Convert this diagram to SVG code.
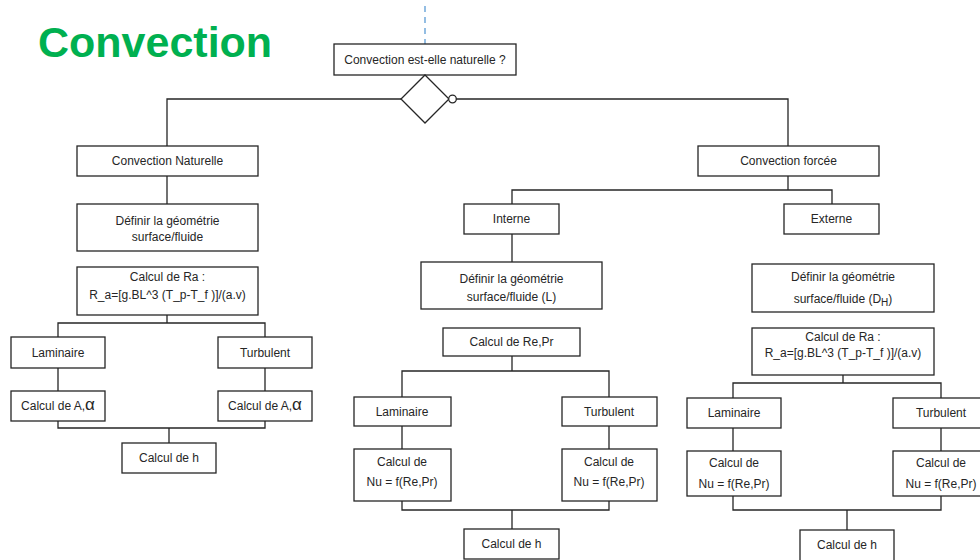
<svg xmlns="http://www.w3.org/2000/svg" width="980" height="560" viewBox="0 0 980 560">
<style>
.b{fill:#fff;stroke:#262626;stroke-width:1.3}
.t{font-family:"Liberation Sans",Arial,sans-serif;font-size:12px;fill:#262626;text-anchor:middle}
.c{fill:none;stroke:#262626;stroke-width:1.3}
</style>
<rect width="980" height="560" fill="#fff"/>
<text x="38" y="57" font-family="Liberation Sans,Arial,sans-serif" font-weight="bold" font-size="43" fill="#00B050">Convection</text>
<line x1="425" y1="6" x2="425" y2="44" stroke="#5B9BD5" stroke-width="1.3" stroke-dasharray="6 5"/>
<g id="connectors">
<path class="c" d="M401,99 H167 V146"/>
<path class="c" d="M456,99 H788 V146"/>
<path class="c" d="M167,176 V204"/>
<path class="c" d="M167,315 V323"/>
<path class="c" d="M58,337 V323 H265 V337"/>
<path class="c" d="M58,368 V391 M265,368 V391"/>
<path class="c" d="M58,421 V428 H265 V421 M169,428 V443"/>
<path class="c" d="M788,176 V190"/>
<path class="c" d="M512,204 V190 H832 V204"/>
<path class="c" d="M512,234 V262"/>
<path class="c" d="M512,356 V371"/>
<path class="c" d="M402,397 V371 H609 V397"/>
<path class="c" d="M402,426 V449 M609,426 V449"/>
<path class="c" d="M402,501 V510 H609 V501 M512,510 V529"/>
<path class="c" d="M843,375 V383"/>
<path class="c" d="M733,398 V383 H941 V398"/>
<path class="c" d="M733,428 V451 M941,428 V451"/>
<path class="c" d="M733,496 V510 H941 V496 M847,510 V530"/>
</g>
<g id="question"><rect class="b" x="334" y="44" width="182" height="31"/><text class="t" x="425" y="64">Convection est-elle naturelle ?</text></g>
<g id="decision"><polygon class="b" points="425,75 449,99 425,123 401,99"/><circle class="b" cx="452.5" cy="99" r="3.8"/></g>
<g id="nat"><rect class="b" x="77" y="146" width="181" height="30"/><text class="t" x="167.5" y="165">Convection Naturelle</text></g>
<g id="nat_geo"><rect class="b" x="77" y="204" width="181" height="47"/><text class="t" x="167.5" y="225">Définir la géométrie</text><text class="t" x="167.5" y="241">surface/fluide</text></g>
<g id="nat_ra"><rect class="b" x="77" y="267" width="181" height="48"/><text class="t" x="167.5" y="281">Calcul de Ra :</text><text class="t" x="167.5" y="299">R_a=[g.BL^3 (T_p-T_f )]/(a.v)</text></g>
<g id="nat_lam"><rect class="b" x="11" y="337" width="94" height="31"/><text class="t" x="58" y="356.5">Laminaire</text></g>
<g id="nat_turb"><rect class="b" x="218" y="337" width="94" height="31"/><text class="t" x="265" y="356.5">Turbulent</text></g>
<g id="nat_al"><rect class="b" x="11" y="391" width="94" height="30"/><text class="t" x="58" y="410">Calcul de A,<tspan font-size="17">α</tspan></text></g>
<g id="nat_at"><rect class="b" x="218" y="391" width="94" height="30"/><text class="t" x="265" y="410">Calcul de A,<tspan font-size="17">α</tspan></text></g>
<g id="nat_h"><rect class="b" x="122" y="443" width="94" height="30"/><text class="t" x="169" y="462">Calcul de h</text></g>
<g id="forcee"><rect class="b" x="698" y="146" width="181" height="30"/><text class="t" x="788.5" y="165">Convection forcée</text></g>
<g id="interne"><rect class="b" x="464" y="204" width="95" height="30"/><text class="t" x="511.5" y="223">Interne</text></g>
<g id="externe"><rect class="b" x="784" y="204" width="95" height="30"/><text class="t" x="831.5" y="223">Externe</text></g>
<g id="int_geo"><rect class="b" x="421" y="262" width="181" height="47"/><text class="t" x="511.5" y="283">Définir la géométrie</text><text class="t" x="511.5" y="301">surface/fluide (L)</text></g>
<g id="int_repr"><rect class="b" x="443" y="328" width="137" height="28"/><text class="t" x="511.5" y="346">Calcul de Re,Pr</text></g>
<g id="int_lam"><rect class="b" x="354" y="397" width="97" height="29"/><text class="t" x="402" y="415.5">Laminaire</text></g>
<g id="int_turb"><rect class="b" x="562" y="397" width="95" height="29"/><text class="t" x="609" y="415.5">Turbulent</text></g>
<g id="int_nul"><rect class="b" x="354" y="449" width="97" height="52"/><text class="t" x="402" y="466">Calcul de</text><text class="t" x="402" y="486">Nu = f(Re,Pr)</text></g>
<g id="int_nut"><rect class="b" x="562" y="449" width="95" height="52"/><text class="t" x="609" y="466">Calcul de</text><text class="t" x="609" y="486">Nu = f(Re,Pr)</text></g>
<g id="int_h"><rect class="b" x="464" y="529" width="95" height="30"/><text class="t" x="511.5" y="548">Calcul de h</text></g>
<g id="ext_geo"><rect class="b" x="752" y="264" width="182" height="48"/><text class="t" x="843" y="281">Définir la géométrie</text><text class="t" x="843" y="303">surface/fluide (D<tspan dy="3" font-size="10">H</tspan><tspan dy="-3">)</tspan></text></g>
<g id="ext_ra"><rect class="b" x="752" y="328" width="182" height="47"/><text class="t" x="843" y="341">Calcul de Ra :</text><text class="t" x="843" y="357">R_a=[g.BL^3 (T_p-T_f )]/(a.v)</text></g>
<g id="ext_lam"><rect class="b" x="687" y="398" width="94" height="30"/><text class="t" x="734" y="417">Laminaire</text></g>
<g id="ext_turb"><rect class="b" x="893" y="398" width="96" height="30"/><text class="t" x="941" y="417">Turbulent</text></g>
<g id="ext_nul"><rect class="b" x="687" y="451" width="94" height="45"/><text class="t" x="734" y="467">Calcul de</text><text class="t" x="734" y="488">Nu = f(Re,Pr)</text></g>
<g id="ext_nut"><rect class="b" x="893" y="451" width="96" height="45"/><text class="t" x="941" y="467">Calcul de</text><text class="t" x="941" y="488">Nu = f(Re,Pr)</text></g>
<g id="ext_h"><rect class="b" x="800" y="530" width="94" height="32"/><text class="t" x="847" y="549">Calcul de h</text></g>
</svg>
